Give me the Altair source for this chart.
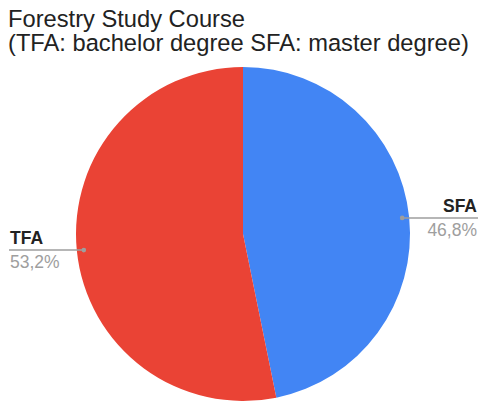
import altair as alt
import pandas as pd

categories = ["SFA", "TFA"]
values = [46.8, 53.2]
colors = ["#4285F4", "#EA4335"]

df = pd.DataFrame({"category": categories, "value": values})

W, H = 481, 402
TOP = 62
CX, CY, R = 243, 234 - TOP, 167
RD = 160
XR, XL = 478, 9
FONT = "Liberation Sans"

base = alt.Chart(df).transform_joinaggregate(
    total="sum(value)"
).transform_window(
    cum="sum(value)", sort=[alt.SortField("category")], frame=[None, 0]
).transform_calculate(
    mid="(datum.cum - datum.value/2)/datum.total*2*PI"
).transform_calculate(
    dx=f"{CX}+{RD}*sin(datum.mid)",
    dy=f"{CY}-{RD}*cos(datum.mid)",
    right="sin(datum.mid) > 0",
    pct="replace(format(datum.value/datum.total*100, '.1f'), '.', ',') + '%'",
).transform_calculate(
    ex=f"datum.right ? {XR} : {XL}",
    ty="datum.dy - 6",
    py="datum.dy + 18",
)

pie = alt.Chart(df).mark_arc(radius=R).encode(
    theta=alt.Theta("value:Q", stack=True),
    color=alt.Color("category:N", scale=alt.Scale(domain=categories, range=colors), legend=None),
    order=alt.Order("category:N"),
    x=alt.value(CX),
    y=alt.value(CY),
)

rules = base.mark_rule(color="#9e9e9e", strokeWidth=1.5).encode(
    x=alt.X("dx:Q", scale=None),
    x2="ex:Q",
    y=alt.Y("dy:Q", scale=None),
)
dots = base.mark_circle(color="#9e9e9e", opacity=1, size=22).encode(
    x=alt.X("dx:Q", scale=None),
    y=alt.Y("dy:Q", scale=None),
)

def labels(side_filter, align, xpos):
    b = base.transform_filter(side_filter)
    name = b.mark_text(align=align, baseline="alphabetic", font=FONT, fontSize=17.5,
                       fontWeight="bold", color="#222222").encode(
        x=alt.value(xpos), y=alt.Y("ty:Q", scale=None), text="category:N")
    pct = b.mark_text(align=align, baseline="alphabetic", font=FONT, fontSize=17.5,
                      color="#9e9e9e").encode(
        x=alt.value(xpos), y=alt.Y("py:Q", scale=None), text="pct:N")
    return name + pct

right_labels = labels("datum.right", "right", 477)
left_labels = labels("!datum.right", "left", 10)

chart = alt.layer(pie, rules, dots, right_labels, left_labels).properties(
    width=W, height=H - TOP,
    padding={"top": TOP, "left": 0, "right": 0, "bottom": 0},
    autosize=alt.AutoSizeParams(type="none"),
    title=alt.TitleParams(
        ["Forestry Study Course", "(TFA: bachelor degree SFA: master degree)"],
        anchor="start", font=FONT, fontSize=23.7, fontWeight="normal",
        color="#222222", lineHeight=24, offset=6, dx=8,
    ),
).configure_view(stroke=None)

chart.save("out.html", embed_options={"renderer": "svg", "actions": False})
